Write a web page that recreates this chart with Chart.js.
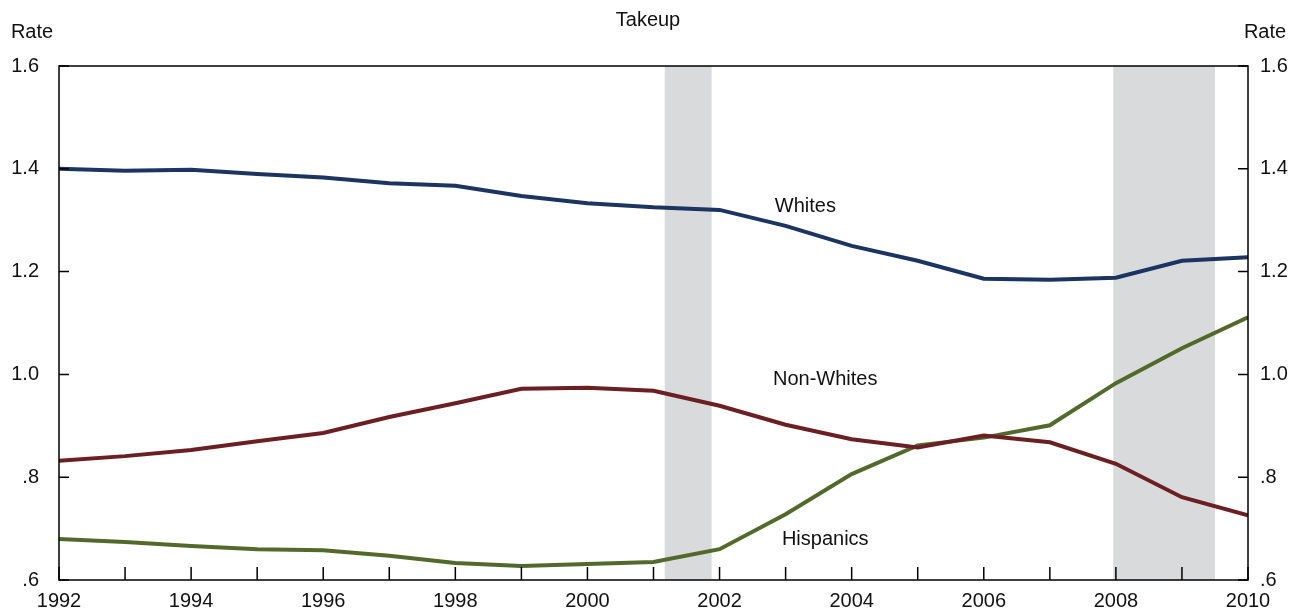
<!DOCTYPE html>
<html><head><meta charset="utf-8">
<script src="https://cdn.jsdelivr.net/npm/chart.js@4"></script>
<style>html,body{margin:0;padding:0;background:#fff}#w{width:1291px;height:615px}</style>
</head><body><div id="w"><canvas id="c"></canvas></div>
<script>
const years=[1992,1993,1994,1995,1996,1997,1998,1999,2000,2001,2002,2003,2004,2005,2006,2007,2008,2009,2010];
const whites=[1.400,1.396,1.398,1.390,1.383,1.372,1.367,1.347,1.333,1.325,1.320,1.289,1.250,1.221,1.186,1.184,1.188,1.221,1.228];
const nonWhites=[0.832,0.841,0.853,0.870,0.886,0.917,0.944,0.972,0.974,0.968,0.939,0.902,0.874,0.858,0.881,0.868,0.826,0.761,0.726];
const hispanics=[0.680,0.674,0.666,0.660,0.658,0.647,0.633,0.627,0.631,0.635,0.660,0.728,0.806,0.862,0.877,0.901,0.983,1.051,1.111];
const recessions=[[2001.17,2001.88],[2007.96,2009.5]];
const yTicks=[0.6,0.8,1.0,1.2,1.4,1.6];
const seriesLabels=[{t:'Whites',x:2003.3,y:1.327},{t:'Non-Whites',x:2003.6,y:0.99},{t:'Hispanics',x:2003.6,y:0.678}];
const FONT='"Liberation Sans", Arial, sans-serif';
const fmt=v=>{let s=v.toFixed(1);return s.startsWith('0')?s.slice(1):s;};
const mk=(d)=>d.map((v,i)=>({x:years[i],y:v}));
const deco={id:'deco',
beforeDatasetsDraw(ch){const {ctx,chartArea:a,scales:{x,y}}=ch;ctx.save();ctx.fillStyle='#d9dadc';
 recessions.forEach(r=>{const x0=x.getPixelForValue(r[0]),x1=x.getPixelForValue(r[1]);ctx.fillRect(x0,a.top,x1-x0,a.bottom-a.top);});ctx.restore();},
afterDatasetsDraw(ch){const {ctx,chartArea:a,scales:{x,y}}=ch;ctx.save();ctx.strokeStyle='#000';ctx.lineWidth=1.5;
 ctx.strokeRect(a.left,a.top,a.right-a.left,a.bottom-a.top);
 ctx.beginPath();years.forEach(yr=>{const px=x.getPixelForValue(yr);ctx.moveTo(px,a.bottom);ctx.lineTo(px,a.bottom-13);});
 yTicks.forEach(v=>{const py=y.getPixelForValue(v);ctx.moveTo(a.left,py);ctx.lineTo(a.left+10,py);ctx.moveTo(a.right,py);ctx.lineTo(a.right-10,py);});ctx.stroke();
 ctx.fillStyle='#111';ctx.font='20px '+FONT;ctx.textBaseline='middle';ctx.textAlign='center';
 ctx.fillText('Takeup',648,20);ctx.fillText('Rate',32,32);ctx.fillText('Rate',1265,32);
 seriesLabels.forEach(l=>ctx.fillText(l.t,x.getPixelForValue(l.x),y.getPixelForValue(l.y)));
 ctx.restore();}};
new Chart(document.getElementById('c'),{type:'line',
data:{datasets:[
 {data:mk(whites),borderColor:'#1c3461'},
 {data:mk(nonWhites),borderColor:'#6b1f23'},
 {data:mk(hispanics),borderColor:'#53692b'}]},
options:{responsive:true,maintainAspectRatio:false,animation:false,
 layout:{padding:{top:66,left:0,right:0,bottom:0}},
 elements:{point:{radius:0},line:{borderWidth:4,tension:0}},
 plugins:{legend:{display:false},tooltip:{enabled:false}},
 scales:{
  x:{type:'linear',min:1992,max:2010,grid:{display:false},border:{display:false},
   afterFit:s=>{s.height=35;},
   afterBuildTicks:s=>{s.ticks=years.filter(v=>v%2===0).map(v=>({value:v}));},
   ticks:{autoSkip:false,maxRotation:0,color:'#111',font:{family:FONT,size:20},padding:1,callback:v=>String(v)}},
  y:{min:0.6,max:1.6,position:'left',grid:{display:false},border:{display:false},
   afterFit:s=>{s.width=59;},
   afterBuildTicks:s=>{s.ticks=yTicks.map(v=>({value:v}));},
   ticks:{color:'#111',font:{family:FONT,size:20},padding:12,callback:v=>fmt(v)}},
  y1:{min:0.6,max:1.6,position:'right',grid:{display:false},border:{display:false},
   afterFit:s=>{s.width=43;},
   afterBuildTicks:s=>{s.ticks=yTicks.map(v=>({value:v}));},
   ticks:{color:'#111',font:{family:FONT,size:20},padding:4,callback:v=>fmt(v)}}
 }},plugins:[deco]});
</script></body></html>
